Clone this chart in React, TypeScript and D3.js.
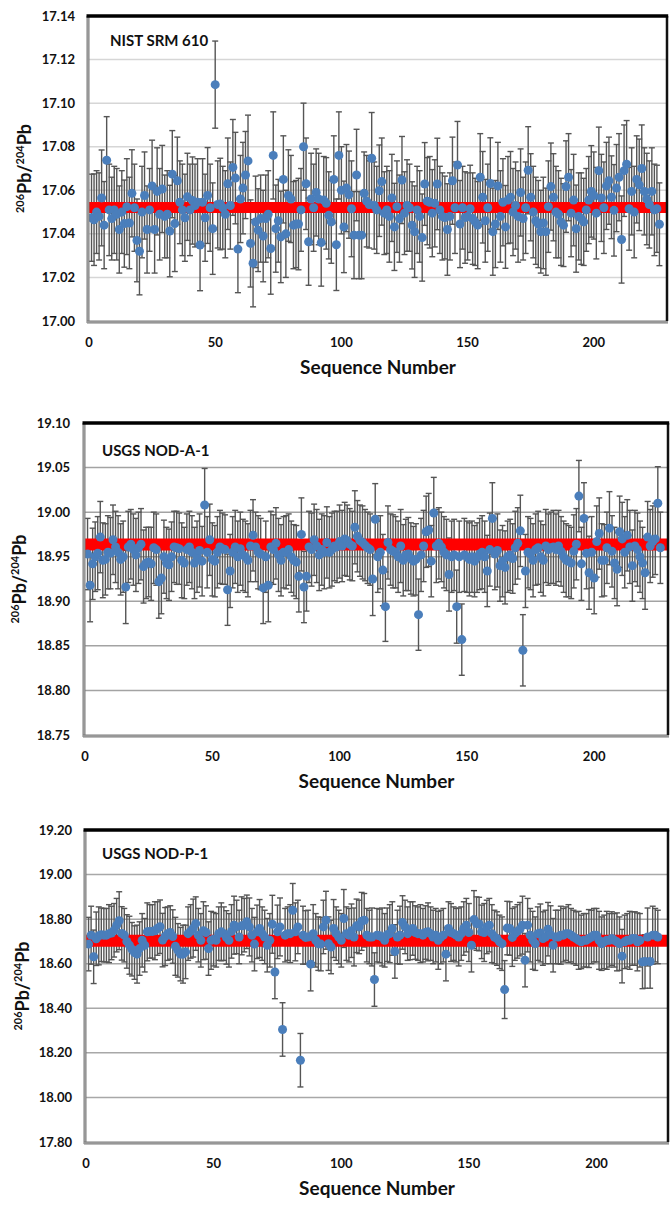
import React from "react";
import * as d3 from "d3";

// ---------- DATA ----------
const titles = ["NIST SRM 610", "USGS NOD-A-1", "USGS NOD-P-1"];
const xTicks = [0, 50, 100, 150, 200];
const yTicks1 = [17.0, 17.02, 17.04, 17.06, 17.08, 17.1, 17.12, 17.14];
const yTicks2 = [18.75, 18.8, 18.85, 18.9, 18.95, 19.0, 19.05, 19.1];
const yTicks3 = [17.8, 18.0, 18.2, 18.4, 18.6, 18.8, 19.0, 19.2];
const refValues = [17.0521, 18.9636, 18.7027];
const errUnits = [0.001, 0.001, 0.01];

const nist610 = [
  17.0474, 17.0465, 17.05, 17.048, 17.0565, 17.044, 17.0738, 17.051, 17.047, 17.051,
  17.049, 17.042, 17.05, 17.0447, 17.0525, 17.045, 17.0586, 17.052, 17.037, 17.032,
  17.05, 17.0576, 17.042, 17.051, 17.062, 17.042, 17.0595, 17.049, 17.0606, 17.048,
  17.049, 17.0413, 17.0674, 17.0447, 17.0644, 17.0545, 17.051, 17.0474, 17.057, 17.051,
  17.0553, 17.053, 17.0545, 17.0349, 17.0545, 17.0474, 17.0576, 17.052, 17.0424, 17.1085,
  17.0535, 17.0537, 17.052, 17.049, 17.063, 17.053, 17.0705, 17.0656, 17.033, 17.056,
  17.061, 17.067, 17.0735, 17.0356, 17.0265, 17.0455, 17.0417, 17.047, 17.039, 17.047,
  17.049, 17.0333, 17.076, 17.0424, 17.046, 17.0386, 17.065, 17.04, 17.0576, 17.056,
  17.044, 17.0445, 17.0445, 17.051, 17.08, 17.063, 17.0364, 17.056, 17.052, 17.059,
  17.056, 17.036, 17.0555, 17.054, 17.0485, 17.0455, 17.065, 17.035, 17.076, 17.06,
  17.0432, 17.061, 17.058, 17.0515, 17.0394, 17.067, 17.0394, 17.0394, 17.0586, 17.055,
  17.0535, 17.0747, 17.053, 17.051, 17.0598, 17.064, 17.0495, 17.051, 17.048, 17.0565,
  17.0432, 17.0525, 17.047, 17.0647, 17.0495, 17.053, 17.052, 17.0439, 17.041, 17.051,
  17.048, 17.0383, 17.0629, 17.055, 17.0545, 17.0495, 17.054, 17.0629, 17.051, 17.048,
  17.0475, 17.042, 17.048, 17.0644, 17.052, 17.0716, 17.0445, 17.052, 17.0475, 17.048,
  17.0515, 17.047, 17.0455, 17.044, 17.066, 17.0568, 17.046, 17.052, 17.0631, 17.041,
  17.0445, 17.062, 17.048, 17.0545, 17.0432, 17.0555, 17.0568, 17.05, 17.053, 17.048,
  17.059, 17.047, 17.052, 17.0692, 17.0568, 17.05, 17.046, 17.0445, 17.041, 17.045,
  17.041, 17.0525, 17.0617, 17.0568, 17.05, 17.049, 17.0455, 17.044, 17.0617, 17.066,
  17.0495, 17.0555, 17.0424, 17.048, 17.047, 17.0455, 17.051, 17.0555, 17.0595, 17.0576,
  17.0495, 17.069, 17.0565, 17.052, 17.062, 17.0644, 17.0568, 17.0508, 17.061, 17.066,
  17.0374, 17.069, 17.072, 17.0515, 17.0595, 17.05, 17.065, 17.0625, 17.07, 17.0595,
  17.056, 17.0535, 17.0595, 17.051, 17.0515, 17.0444,
];
const nist610Err = [
  20, 21, 19, 20, 22, 20, 20, 21, 19, 20,
  21, 20, 19, 20, 22, 21, 20, 20, 19, 20,
  21, 20, 20, 19, 21, 20, 20, 21, 20, 19,
  20, 21, 20, 22, 20, 19, 21, 20, 20, 21,
  20, 19, 20, 21, 20, 20, 22, 20, 21, 20,
  20, 21, 19, 20, 21, 20, 22, 21, 20, 20,
  21, 20, 21, 20, 20, 21, 19, 20, 21, 20,
  20, 21, 20, 20, 19, 21, 20, 20, 21, 20,
  20, 20, 21, 19, 20, 21, 20, 21, 20, 20,
  21, 20, 20, 21, 20, 19, 20, 21, 20, 20,
  21, 20, 20, 22, 20, 21, 20, 20, 19, 21,
  20, 21, 20, 20, 21, 20, 19, 20, 21, 20,
  20, 21, 20, 20, 19, 21, 20, 20, 21, 20,
  21, 20, 19, 20, 21, 20, 20, 21, 20, 20,
  19, 21, 20, 20, 21, 20, 20, 19, 21, 20,
  20, 21, 20, 20, 20, 21, 19, 20, 21, 20,
  20, 20, 21, 20, 19, 20, 21, 20, 20, 21,
  20, 19, 21, 20, 20, 21, 20, 20, 19, 21,
  20, 21, 20, 20, 21, 20, 20, 19, 21, 20,
  20, 21, 20, 20, 21, 20, 19, 20, 21, 20,
  21, 20, 20, 21, 20, 20, 19, 21, 20, 20,
  20, 21, 20, 19, 20, 21, 20, 21, 20, 20,
  21, 20, 20, 21, 20, 19,
];

const nodA1 = [
  18.953, 18.918, 18.942, 18.95, 18.954, 18.972, 18.946, 18.947, 18.955, 18.954,
  18.969, 18.961, 18.955, 18.947, 18.95, 18.916, 18.961, 18.964, 18.958, 18.952,
  18.96, 18.964, 18.939, 18.943, 18.944, 18.942, 18.96, 18.958, 18.922, 18.926,
  18.95, 18.943, 18.941, 18.95, 18.961, 18.96, 18.959, 18.946, 18.943, 18.958,
  18.961, 18.955, 18.943, 18.95, 18.957, 18.945, 19.008, 18.955, 18.969, 18.947,
  18.945, 18.955, 18.961, 18.959, 18.958, 18.913, 18.934, 18.955, 18.961, 18.95,
  18.959, 18.952, 18.95, 18.946, 18.962, 18.974, 18.961, 18.955, 18.953, 18.915,
  18.95, 18.918, 18.961, 18.958, 18.965, 18.952, 18.946, 18.955, 18.955, 18.958,
  18.95, 18.946, 18.944, 18.928, 18.975, 18.916, 18.928, 18.961, 18.958, 18.969,
  18.962, 18.952, 18.958, 18.955, 18.966, 18.955, 18.958, 18.962, 18.961, 18.967,
  18.962, 18.97, 18.968, 18.964, 18.962, 18.983, 18.973, 18.968, 18.966, 18.963,
  18.96, 18.958, 18.925, 18.992, 18.95, 18.955, 18.935, 18.894, 18.966, 18.958,
  18.956, 18.955, 18.95, 18.962, 18.946, 18.952, 18.953, 18.948, 18.945, 18.947,
  18.885, 18.952, 18.962, 18.978, 18.98, 18.945, 18.999, 18.962, 18.965, 18.961,
  18.955, 18.952, 18.93, 18.95, 18.952, 18.894, 18.95, 18.857, 18.952, 18.95,
  18.947, 18.95, 18.945, 18.949, 18.953, 18.955, 18.95, 18.934, 18.958, 18.993,
  18.953, 18.957, 18.94, 18.945, 18.938, 18.95, 18.952, 18.948, 18.96, 18.965,
  18.979, 18.845, 18.934, 18.955, 18.953, 18.946, 18.958, 18.96, 18.95, 18.946,
  18.962, 18.958, 18.96, 18.961, 18.958, 18.962, 18.956, 18.95, 18.946, 18.945,
  18.943, 18.956, 18.964, 19.018, 18.942, 18.993, 18.954, 18.932, 18.955, 18.926,
  18.967, 18.976, 18.946, 18.946, 18.96, 18.982, 18.956, 18.943, 18.936, 18.978,
  18.97, 18.955, 18.974, 18.961, 18.94, 18.962, 18.958, 18.95, 18.943, 18.932,
  18.972, 18.962, 18.967, 18.97, 19.01, 18.96,
];
const nodA1Err = [
  40, 41, 40, 39, 41, 40, 42, 40, 41, 40,
  39, 40, 41, 40, 40, 41, 40, 39, 40, 41,
  40, 40, 41, 40, 39, 41, 40, 40, 41, 40,
  41, 40, 40, 39, 40, 41, 40, 42, 40, 40,
  40, 41, 40, 40, 41, 39, 41, 40, 40, 41,
  40, 40, 41, 40, 39, 40, 41, 40, 41, 40,
  41, 40, 40, 41, 40, 40, 39, 41, 40, 40,
  40, 41, 40, 39, 40, 41, 40, 40, 41, 40,
  40, 40, 41, 40, 41, 40, 39, 40, 41, 40,
  41, 40, 40, 41, 40, 40, 41, 39, 40, 41,
  40, 41, 40, 40, 39, 41, 40, 40, 41, 40,
  40, 40, 41, 40, 40, 41, 40, 39, 41, 40,
  41, 40, 40, 41, 40, 40, 41, 40, 39, 40,
  40, 41, 40, 40, 41, 40, 40, 41, 40, 39,
  40, 40, 41, 40, 40, 41, 40, 40, 41, 40,
  41, 40, 40, 39, 40, 41, 40, 40, 41, 40,
  40, 41, 40, 40, 41, 40, 40, 39, 41, 40,
  40, 40, 41, 40, 40, 41, 40, 41, 40, 40,
  41, 40, 40, 41, 40, 40, 39, 40, 41, 40,
  40, 41, 40, 40, 41, 40, 40, 41, 40, 40,
  40, 40, 41, 40, 40, 41, 40, 40, 41, 40,
  41, 40, 40, 41, 40, 40, 41, 40, 40, 41,
  40, 41, 40, 40, 41, 40,
];

const nodP1 = [
  18.688, 18.728, 18.631, 18.712, 18.725, 18.73, 18.728, 18.728, 18.735, 18.738,
  18.75, 18.773, 18.793, 18.736, 18.728, 18.7, 18.683, 18.665, 18.65, 18.643,
  18.668, 18.705, 18.683, 18.743, 18.745, 18.745, 18.748, 18.758, 18.766, 18.706,
  18.722, 18.735, 18.74, 18.722, 18.678, 18.66, 18.643, 18.643, 18.653, 18.735,
  18.745, 18.76, 18.78, 18.728, 18.705, 18.748, 18.74, 18.668, 18.705, 18.71,
  18.705, 18.735, 18.743, 18.735, 18.718, 18.705, 18.745, 18.773, 18.765, 18.72,
  18.77, 18.773, 18.788, 18.765, 18.728, 18.688, 18.743, 18.758, 18.735, 18.72,
  18.683, 18.705, 18.777, 18.563, 18.743, 18.765, 18.305, 18.728, 18.735, 18.735,
  18.84, 18.743, 18.765, 18.167, 18.728, 18.718, 18.72, 18.598, 18.735, 18.705,
  18.69, 18.688, 18.765, 18.795, 18.69, 18.675, 18.758, 18.735, 18.72, 18.705,
  18.803, 18.735, 18.728, 18.748, 18.72, 18.77, 18.765, 18.79, 18.795, 18.728,
  18.72, 18.72, 18.529, 18.728, 18.725, 18.72, 18.705, 18.73, 18.735, 18.758,
  18.655, 18.72, 18.728, 18.785, 18.765, 18.735, 18.748, 18.758, 18.74, 18.735,
  18.735, 18.728, 18.74, 18.743, 18.735, 18.72, 18.728, 18.705, 18.72, 18.728,
  18.643, 18.758, 18.74, 18.735, 18.728, 18.72, 18.735, 18.758, 18.773, 18.74,
  18.683, 18.798, 18.78, 18.778, 18.743, 18.74, 18.765, 18.773, 18.735, 18.72,
  18.713, 18.698, 18.69, 18.484, 18.76, 18.758, 18.718, 18.735, 18.745, 18.755,
  18.773, 18.616, 18.773, 18.728, 18.705, 18.69, 18.735, 18.738, 18.713, 18.72,
  18.755, 18.73, 18.683, 18.72, 18.72, 18.728, 18.728, 18.735, 18.735, 18.728,
  18.72, 18.713, 18.705, 18.698, 18.705, 18.705, 18.713, 18.72, 18.728, 18.728,
  18.705, 18.69, 18.698, 18.705, 18.705, 18.713, 18.705, 18.698, 18.69, 18.634,
  18.698, 18.705, 18.705, 18.713, 18.713, 18.698, 18.705, 18.608, 18.61, 18.72,
  18.61, 18.728, 18.728, 18.72,
];
const nodP1Err = [
  12, 13, 12, 12, 13, 12, 12, 12, 13, 12,
  12, 12, 13, 12, 12, 12, 13, 12, 12, 13,
  12, 12, 12, 13, 12, 12, 13, 12, 12, 12,
  13, 12, 12, 12, 13, 12, 12, 13, 12, 12,
  12, 13, 12, 12, 12, 13, 12, 12, 13, 12,
  12, 12, 13, 12, 12, 12, 12, 13, 12, 12,
  13, 12, 12, 13, 12, 12, 12, 13, 12, 12,
  12, 12, 13, 12, 12, 13, 12, 12, 12, 13,
  12, 13, 12, 12, 13, 12, 12, 12, 13, 12,
  12, 12, 12, 13, 12, 12, 13, 12, 12, 12,
  13, 12, 12, 12, 13, 12, 12, 13, 12, 12,
  12, 13, 12, 12, 12, 13, 12, 12, 13, 12,
  12, 12, 13, 12, 12, 12, 13, 12, 12, 12,
  13, 12, 12, 13, 12, 12, 12, 13, 12, 12,
  12, 12, 13, 12, 12, 13, 12, 12, 12, 13,
  12, 13, 12, 12, 12, 13, 12, 12, 13, 12,
  12, 12, 12, 13, 12, 12, 13, 12, 12, 12,
  13, 12, 12, 12, 13, 12, 12, 13, 12, 12,
  12, 13, 12, 12, 12, 13, 12, 12, 13, 12,
  12, 12, 13, 12, 12, 12, 13, 12, 12, 12,
  13, 12, 12, 13, 12, 12, 12, 13, 12, 12,
  12, 12, 13, 12, 12, 13, 12, 12, 12, 13,
  12, 13, 12, 12,
];

// ---------- LAYOUT ----------
const FONT = "Lato, 'Open Sans', Arial, sans-serif";
const W = 670;
const H = 1205;

type PanelCfg = {
  title: string;
  values: number[];
  errs: number[];
  errUnit: number;
  ref: number;
  yTicks: number[];
  left: number;
  right: number;
  top: number;
  bottom: number;
  xMax: number;
  tickRight: number;
  labelX: number;
  titleX: number;
  titleY: number;
  grid: string;
  gridW: number;
  band: number;
};

const panels: PanelCfg[] = [
  {
    title: titles[0], values: nist610, errs: nist610Err, errUnit: errUnits[0], ref: refValues[0],
    yTicks: yTicks1, left: 89, right: 667, top: 16, bottom: 321, xMax: 229,
    tickRight: 75, labelX: 31, titleX: 110, titleY: 46, grid: "#d6d6d6", gridW: 1.5, band: 11,
  },
  {
    title: titles[1], values: nodA1, errs: nodA1Err, errUnit: errUnits[1], ref: refValues[1],
    yTicks: yTicks2, left: 85, right: 668, top: 423, bottom: 735, xMax: 229,
    tickRight: 70, labelX: 26, titleX: 102, titleY: 456, grid: "#a3a3a3", gridW: 1.5, band: 12,
  },
  {
    title: titles[2], values: nodP1, errs: nodP1Err, errUnit: errUnits[2], ref: refValues[2],
    yTicks: yTicks3, left: 86, right: 668, top: 830, bottom: 1142, xMax: 228,
    tickRight: 72, labelX: 29, titleX: 102, titleY: 859, grid: "#a8a8a8", gridW: 1.5, band: 12,
  },
];

function Panel({ p }: { p: PanelCfg }) {
  const x = d3.scaleLinear().domain([0, p.xMax]).range([p.left, p.right]);
  const yExt = d3.extent(p.yTicks) as [number, number];
  const y = d3.scaleLinear().domain(yExt).range([p.bottom, p.top]);
  const pts = p.values.map((v, i) => ({ s: i + 1, v, e: (p.errs[i] ?? p.errs[p.errs.length - 1]) * p.errUnit }));
  const cap = 3;
  const midY = (p.top + p.bottom) / 2;
  const midX = (p.left + p.right) / 2;
  return (
    <g>
      {p.yTicks.slice(1, -1).map((t) => (
        <line key={t} x1={p.left} x2={p.right} y1={y(t)} y2={y(t)} stroke={p.grid} strokeWidth={p.gridW} />
      ))}
      <g stroke="#555" strokeWidth={1.4}>
        {pts.map((d) => {
          const cx = x(d.s);
          const y1 = y(d.v + d.e);
          const y2 = y(d.v - d.e);
          return (
            <g key={d.s}>
              <line x1={cx} x2={cx} y1={y1} y2={y2} />
              <line x1={cx - cap} x2={cx + cap} y1={y1} y2={y1} />
              <line x1={cx - cap} x2={cx + cap} y1={y2} y2={y2} />
            </g>
          );
        })}
      </g>
      <line x1={x(0)} x2={x(p.xMax)} y1={y(p.ref)} y2={y(p.ref)} stroke="#ff0000" strokeWidth={p.band} />
      <g fill="#4a7ebb">
        {pts.map((d) => (
          <circle key={d.s} cx={x(d.s)} cy={y(d.v)} r={4.5} />
        ))}
      </g>
      <line x1={p.left - 1} x2={p.left - 1} y1={p.top} y2={p.bottom + 2} stroke="#7a7a7a" strokeWidth={3} />
      <line x1={p.left - 1} x2={p.left - 1} y1={p.top} y2={p.bottom + 2} stroke="#c4c4c4" strokeWidth={0.8} />
      <line x1={p.left - 2} x2={p.right + 1} y1={p.bottom + 1} y2={p.bottom + 1} stroke="#7a7a7a" strokeWidth={3} />
      <line x1={p.left - 2} x2={p.right + 1} y1={p.bottom + 1} y2={p.bottom + 1} stroke="#c4c4c4" strokeWidth={0.8} />
      <line x1={p.right} x2={p.right} y1={p.top} y2={p.bottom} stroke="#111" strokeWidth={2.5} />
      <line x1={p.left - 2.5} x2={p.right + 1.2} y1={p.top} y2={p.top} stroke="#000" strokeWidth={3.5} />
      {p.yTicks.map((t) => (
        <text key={t} x={p.tickRight} y={y(t)} dy="0.35em" textAnchor="end" fontFamily={FONT} fontWeight={700} fontSize={13} fill="#111">
          {t.toFixed(2)}
        </text>
      ))}
      {xTicks.map((t) => (
        <text key={t} x={x(t)} y={p.bottom + 21} dy="0.35em" textAnchor="middle" fontFamily={FONT} fontWeight={700} fontSize={13} fill="#111">
          {t}
        </text>
      ))}
      <text x={midX} y={p.bottom + 46} dy="0.35em" textAnchor="middle" fontFamily={FONT} fontWeight={700} fontSize={19} fill="#111">
        Sequence Number
      </text>
      <text transform={`translate(${p.labelX},${midY}) rotate(-90)`} textAnchor="middle" fontFamily={FONT} fontWeight={700} fontSize={18} fill="#111">
        <tspan fontSize={11} dy="-7">206</tspan>
        <tspan dy="7">Pb/</tspan>
        <tspan fontSize={11} dy="-7">204</tspan>
        <tspan dy="7">Pb</tspan>
      </text>
      <text x={p.titleX} y={p.titleY} fontFamily={FONT} fontWeight={700} fontSize={15} fill="#111">
        {p.title}
      </text>
    </g>
  );
}

export default function App() {
  return (
    <svg width={W} height={H} viewBox={`0 0 ${W} ${H}`} style={{ position: "absolute", left: 0, top: 0, background: "#fff" }}>
      <rect width={W} height={H} fill="#fff" />
      {panels.map((p) => (
        <Panel key={p.title} p={p} />
      ))}
    </svg>
  );
}
